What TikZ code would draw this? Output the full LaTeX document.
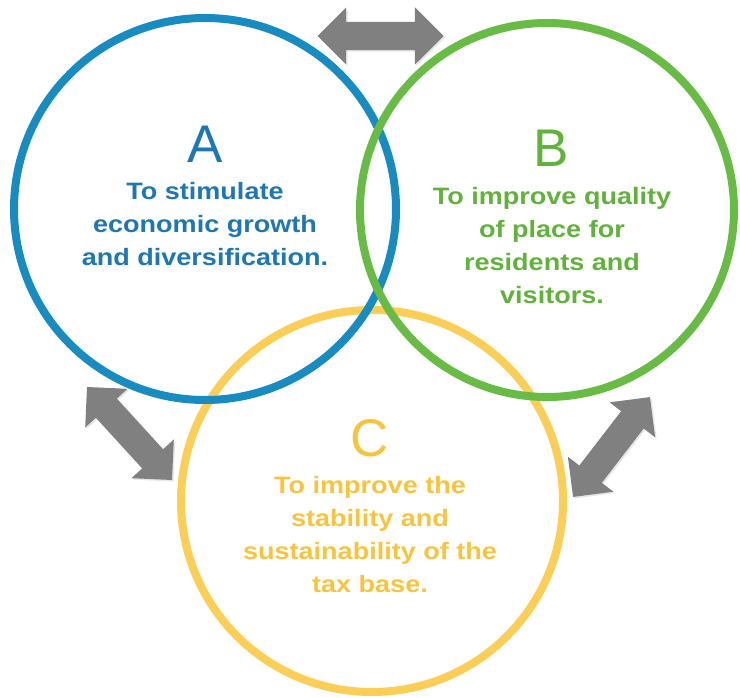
\documentclass[tikz,border=0pt]{standalone}
\usepackage{fontspec}
\setmainfont{Liberation Sans}
\newfontfamily\goalfont[FakeStretch=1.14]{Liberation Sans}
\usetikzlibrary{shapes.arrows,shadows}
\definecolor{ringA}{RGB}{24,140,192}
\definecolor{inkA}{RGB}{30,118,178}
\definecolor{ringB}{RGB}{104,187,69}
\definecolor{inkB}{RGB}{96,178,58}
\definecolor{ringC}{RGB}{251,206,88}
\definecolor{inkC}{RGB}{248,196,62}
\definecolor{arrowgray}{RGB}{128,128,128}
\begin{document}
\begin{tikzpicture}[x=1pt,y=-1pt]
				\tikzstyle{ring}=[circle,line width=8pt,inner sep=0pt]
				\tikzstyle{letter}=[anchor=base,inner sep=0pt,font=\fontsize{53}{53}\selectfont]
				\tikzstyle{goal}=[anchor=north,align=center,inner sep=0pt,
				font=\goalfont\bfseries\fontsize{23.7}{33}\selectfont]
				\tikzstyle{link}=[double arrow,fill=arrowgray,inner sep=0pt,inner ysep=14pt,
				double arrow head extend=14.5pt,double arrow tip angle=90,
				minimum height=126pt,minimum width=0pt,
				drop shadow={shadow xshift=1.5pt,shadow yshift=-1.5pt,opacity=0.2}]
				\useasboundingbox (0,0) rectangle (740,698);
				\node[ring,draw=ringC,minimum size=382pt] (cC) at (372,501) {};
				\node[ring,draw=ringA,minimum size=382pt] (cA) at (205,209) {};
				\node[ring,draw=ringB,minimum size=374pt] (cB) at (547,210) {};
				\node[letter,text=inkA] (lA) at (205,163) {A};
				\node[goal,text=inkA] (tA) at (205,182.5) {To stimulate\\economic growth\\and diversification.};
				\node[letter,text=inkB] (lB) at (551,167) {B};
				\node[goal,text=inkB] (tB) at (552,187.5) {To improve quality\\of place for\\residents and\\visitors.};
				\node[letter,text=inkC] (lC) at (370,456) {C};
				\node[goal,text=inkC] (tC) at (370,476.5) {To improve the\\stability and\\sustainability of the\\tax base.};
				\node[link] (arrAB) at (380.5,36) {};
				\node[link,rotate=-47.6] (arrAC) at (129.5,433.5) {};
				\node[link,rotate=52.4] (arrBC) at (611.5,447) {};
\end{tikzpicture}
\end{document}
